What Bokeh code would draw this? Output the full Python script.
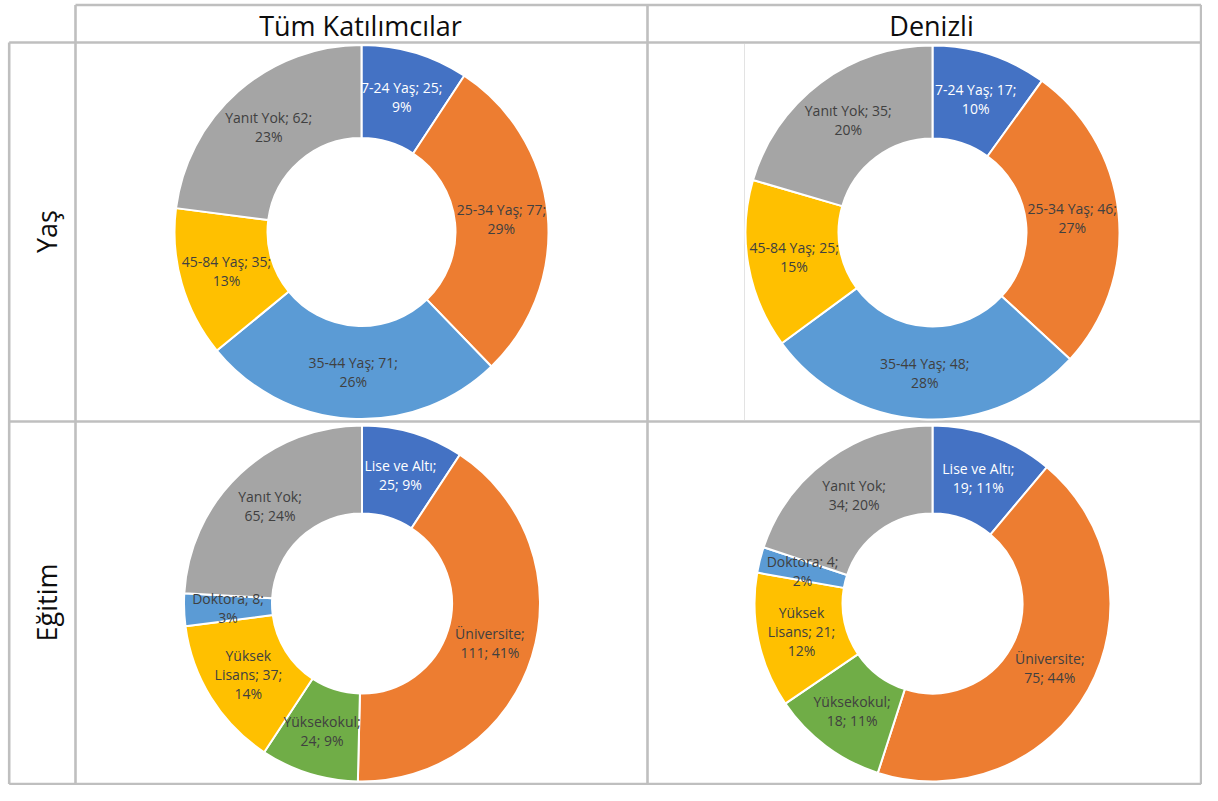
import math
from bokeh.plotting import figure
from bokeh.models import Range1d, ColumnDataSource
from bokeh.core.properties import value
from bokeh.embed import file_html
from bokeh.resources import INLINE

# ---------------- data ----------------
col_titles = ["Tüm Katılımcılar", "Denizli"]
row_titles = ["Yaş", "Eğitim"]

yas_cats = ["7-24 Yaş", "25-34 Yaş", "35-44 Yaş", "45-84 Yaş", "Yanıt Yok"]
yas_tum = [25, 77, 71, 35, 62]
yas_den = [17, 46, 48, 25, 35]
yas_colors = ["#4472C4", "#ED7D31", "#5B9BD5", "#FFC000", "#A5A5A5"]
yas_fmt = ["{c}; {v};\n{p}%"] * 5

egitim_cats = ["Lise ve Altı", "Üniversite", "Yüksekokul", "Yüksek Lisans", "Doktora", "Yanıt Yok"]
egitim_tum = [25, 111, 24, 37, 8, 65]
egitim_den = [19, 75, 18, 21, 4, 34]
egitim_colors = ["#4472C4", "#ED7D31", "#70AD47", "#FFC000", "#5B9BD5", "#A5A5A5"]
egitim_fmt = ["{c};\n{v}; {p}%", "{c};\n{v}; {p}%", "{c};\n{v}; {p}%",
              "{c1}\n{c2}; {v};\n{p}%", "{c}; {v};\n{p}%", "{c};\n{v}; {p}%"]

# ---------------- layout ----------------
W, H = 1202, 785


def X(xr):
    return xr


def Y(yr):
    return H - yr


FONT = "Open Sans"
GRID = "#BFBFBF"

p = figure(width=W, height=H, x_range=Range1d(0, W), y_range=Range1d(0, H),
           output_backend="svg", toolbar_location=None, min_border=0)
p.axis.visible = False
p.grid.visible = False
p.outline_line_color = None
p.background_fill_color = "white"
p.border_fill_color = "white"

# table grid
top_y = Y(4.5)
bot_y = 1.4
right_x = W - 1.4
left_x = X(8.7)
p.segment(x0=[X(75), left_x, left_x, left_x],
          y0=[top_y, Y(42), Y(421), bot_y],
          x1=[right_x] * 4,
          y1=[top_y, Y(42), Y(421), bot_y],
          line_color=GRID, line_width=2.6)
p.segment(x0=[left_x, X(75), X(647), right_x],
          y0=[Y(42), top_y, top_y, top_y],
          x1=[left_x, X(75), X(647), right_x],
          y1=[bot_y, bot_y, bot_y, bot_y],
          line_color=GRID, line_width=2.6)
p.segment(x0=[X(744)], y0=[Y(43.5)], x1=[X(744)], y1=[Y(419.5)],
          line_color="#E3E3E3", line_width=1)

# headers
p.text(x=[X(360), X(931)], y=[Y(25), Y(25)], text=col_titles,
       text_font=value(FONT), text_font_size="27px", text_color="#0D0D0D",
       text_align="center", text_baseline="middle")
p.text(x=[X(46), X(46)], y=[Y(231), Y(602)], text=row_titles, angle=math.pi / 2,
       text_font=value(FONT), text_font_size="27px", text_color="#0D0D0D",
       text_align="center", text_baseline="middle")


def donut(cx, cy, r_out, r_in, cats, vals, colors, fmts):
    total = float(sum(vals))
    starts, ends, lx, ly, labels, lcol = [], [], [], [], [], []
    cum = 0.0
    rmid = (r_out + r_in) / 2.0
    for c, v, col, f in zip(cats, vals, colors, fmts):
        a = cum / total
        b = (cum + v) / total
        starts.append(math.pi / 2 - 2 * math.pi * b)
        ends.append(math.pi / 2 - 2 * math.pi * a)
        m = 2 * math.pi * (a + b) / 2
        lx.append(cx + rmid * math.sin(m))
        ly.append(cy + rmid * math.cos(m))
        pct = int(round(100.0 * v / total + 1e-9))
        parts = c.split(" ")
        labels.append(f.format(c=c, v=v, p=pct, c1=parts[0], c2=" ".join(parts[1:])))
        lcol.append("white" if col == "#4472C4" else "#404040")
        cum += v
    src = ColumnDataSource(dict(s=starts, e=ends, color=colors,
                                x=[cx] * len(vals), y=[cy] * len(vals)))
    p.annular_wedge(x="x", y="y", inner_radius=r_in, outer_radius=r_out,
                    start_angle="s", end_angle="e", fill_color="color",
                    line_color="white", line_width=2, source=src)
    lsrc = ColumnDataSource(dict(x=lx, y=ly, t=labels, c=lcol))
    p.text(x="x", y="y", text="t", text_color="c", source=lsrc,
           text_font=value(FONT), text_font_size="14px",
           text_align="center", text_baseline="middle", text_line_height=1.0)


donut(X(361), Y(231.5), 187, 94, yas_cats, yas_tum, yas_colors, yas_fmt)
donut(X(932), Y(232), 187, 94, yas_cats, yas_den, yas_colors, yas_fmt)
donut(X(361.5), Y(603), 178, 90, egitim_cats, egitim_tum, egitim_colors, egitim_fmt)
donut(X(932), Y(603), 178, 90, egitim_cats, egitim_den, egitim_colors, egitim_fmt)

open("out.html", "w").write(file_html(p, INLINE))
